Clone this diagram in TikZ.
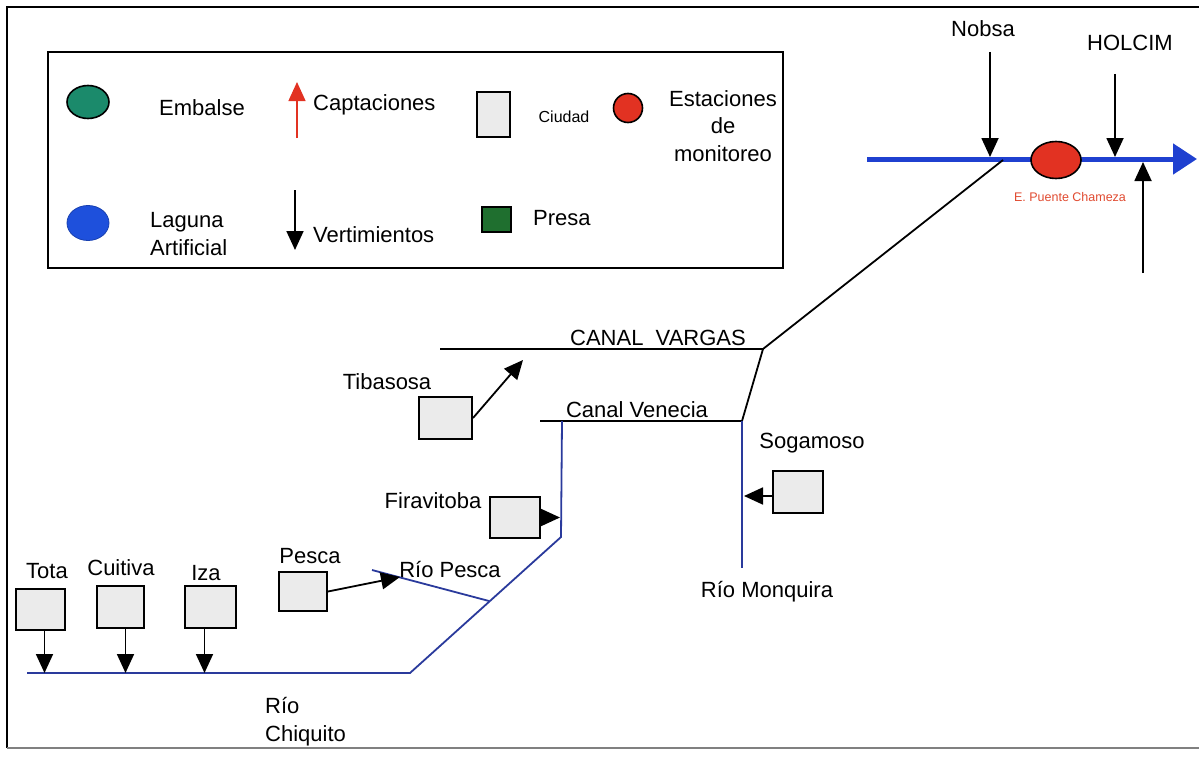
\documentclass[tikz,border=0pt]{standalone}
\usepackage{fontspec}
\setmainfont{Liberation Sans}
\usetikzlibrary{arrows.meta,shapes.geometric}
\definecolor{embalse}{HTML}{1B8A6B}
\definecolor{laguna}{HTML}{1E50DC}
\definecolor{estred}{HTML}{E23222}
\definecolor{presa}{HTML}{1F6F2F}
\definecolor{cityfill}{HTML}{EBEBEB}
\definecolor{riverblue}{HTML}{2A3A9C}
\definecolor{mainblue}{HTML}{1F40D0}
\definecolor{redtext}{HTML}{E04A30}
\begin{document}
\begin{tikzpicture}[x=1pt,y=-1pt,
  lbl/.style={font=\fontsize{22}{28}\selectfont, inner sep=0pt},
  city/.style={draw=black, line width=2pt, fill=cityfill, inner sep=0pt},
  vert/.style={-{Triangle[length=19pt,width=17pt]}, line width=1.8pt, black},
  capt/.style={-{Triangle[length=19pt,width=17pt]}, line width=1.4pt, estred},
  river/.style={draw=riverblue, line width=1.8pt},
  canal/.style={draw=black, line width=1.8pt},
  mainriver/.style={draw=mainblue, line width=5pt, -{Triangle[length=24pt,width=30pt]}}]
\useasboundingbox (0,0) rectangle (1199,760);
% frame
\draw[line width=2pt] (1199,7) -- (7,7) -- (7,748);
\draw[gray, line width=1.2pt] (7,748) -- (1199,748);
% legend
\draw[line width=2pt] (48,52) rectangle (783,268);
\node[ellipse, draw, line width=1.6pt, fill=embalse, minimum width=42pt, minimum height=33pt] (embsym) at (88,102) {};
\node[lbl] (emb) at (202,108) {Embalse};
\coordinate (capS) at (297,138);
\coordinate (capE) at (297,82);
\draw[capt] (capS) -- (capE);
\node[lbl, anchor=west] (capt) at (313,105) {Captaciones};
\node[ellipse, draw=laguna!80!black, line width=0.8pt, fill=laguna, minimum width=42pt, minimum height=35pt] (lagsym) at (88,223) {};
\node[lbl, anchor=west, align=left] (lag) at (150,234) {Laguna\\Artificial};
\coordinate (verS) at (295,190);
\coordinate (verE) at (295,250);
\draw[vert] (verS) -- (verE);
\node[lbl, anchor=west] (vert) at (313,235) {Vertimientos};
\node[city, minimum width=33pt, minimum height=45pt] (citysym) at (493.5,114.5) {};
\node[lbl, font=\fontsize{16}{18}\selectfont] (ciudad) at (564,117) {Ciudad};
\node[circle, draw, line width=1.6pt, fill=estred, minimum size=29pt, inner sep=0pt] (estsym) at (628,108) {};
\node[lbl, align=center, font=\fontsize{22}{27.5}\selectfont] (est) at (723,126) {Estaciones\\de\\monitoreo};
\node[draw, line width=1.5pt, fill=presa, minimum width=29pt, minimum height=25pt, inner sep=0pt] (presasym) at (496.5,219.5) {};
\node[lbl, anchor=west] (presa) at (533,218) {Presa};
% main river (top right)
\coordinate (mainS) at (867,159);
\coordinate (mainE) at (1197,159);
\draw[mainriver] (mainS) -- (mainE);
\node[ellipse, draw, line width=1.6pt, fill=estred, minimum width=50pt, minimum height=37pt, inner sep=0pt] (chameza) at (1056,160) {};
\node[inner sep=0pt, text=redtext, font=\fontsize{12.5}{14}\selectfont] (chamezalbl) at (1070,197) {E. Puente Chameza};
\node[lbl] (nobsa) at (983,29) {Nobsa};
\coordinate (nobsaS) at (990,52);
\coordinate (nobsaE) at (990,157);
\draw[vert] (nobsaS) -- (nobsaE);
\node[lbl] (holcim) at (1130,43) {HOLCIM};
\coordinate (holS) at (1115,74);
\coordinate (holE) at (1115,157);
\draw[vert] (holS) -- (holE);
\coordinate (upS) at (1143,273);
\coordinate (upE) at (1143,162);
\draw[vert] (upS) -- (upE);
% canals
\coordinate (vL) at (440,349);
\coordinate (jV) at (763,349);
\coordinate (jN) at (1003,160);
\coordinate (jC) at (742,421);
\coordinate (cL) at (540,421);
\draw[canal] (vL) -- (jV) -- (jN);
\draw[canal] (jV) -- (jC) -- (cL);
\node[lbl] (vargas) at (658,338) {CANAL\ \ VARGAS};
\node[lbl] (venecia) at (637,410) {Canal Venecia};
% blue rivers
\coordinate (chT) at (562,421);
\coordinate (chB) at (561,537);
\coordinate (chD) at (410,673);
\coordinate (chL) at (27,673);
\draw[river] (chT) -- (chB) -- (chD) -- (chL);
\coordinate (monB) at (742,568);
\draw[river] (jC) -- (monB);
\coordinate (peL) at (372,570);
\coordinate (peJ) at (489,601);
\draw[river] (peL) -- (peJ);
\node[lbl] (riopesca) at (450,570) {Río Pesca};
\node[lbl] (monq) at (767,592) {Río Monquira};
\node[lbl, anchor=west, align=left] (chiq) at (265,722) {Río\\Chiquito};
% cities
\node[city, minimum width=53pt, minimum height=42pt] (tib) at (445.5,418) {};
\node[lbl] (tiblbl) at (387,382) {Tibasosa};
\coordinate (tibE) at (523,360);
\draw[vert] (tib.east) -- (tibE);
\node[city, minimum width=50pt, minimum height=41pt] (fir) at (515,517.5) {};
\node[lbl] (firlbl) at (433,501) {Firavitoba};
\coordinate (firE) at (560,517.5);
\draw[vert] (fir.east) -- (firE);
\node[city, minimum width=50pt, minimum height=42pt] (sog) at (798,492) {};
\node[lbl] (soglbl) at (812,443) {Sogamoso};
\coordinate (sogE) at (744,496);
\draw[vert] ([yshift=-4pt]sog.west) -- (sogE);
\node[city, minimum width=48pt, minimum height=39pt] (pes) at (303,591.5) {};
\node[lbl] (peslbl) at (310,556) {Pesca};
\coordinate (pesE) at (400,577);
\draw[vert] (pes.east) -- (pesE);
\node[city, minimum width=49pt, minimum height=41pt] (tota) at (40.5,609.5) {};
\node[lbl] (totalbl) at (47,571) {Tota};
\draw[vert] ([xshift=4pt]tota.south) -- ([xshift=4pt]tota.south |- chL);
\node[city, minimum width=47pt, minimum height=42pt] (cui) at (120.5,607) {};
\node[lbl] (cuilbl) at (121,568) {Cuitiva};
\draw[vert] ([xshift=5pt]cui.south) -- ([xshift=5pt]cui.south |- chL);
\node[city, minimum width=51pt, minimum height=42pt] (iza) at (210.5,607) {};
\node[lbl] (izalbl) at (206,573) {Iza};
\draw[vert] ([xshift=-6pt]iza.south) -- ([xshift=-6pt]iza.south |- chL);
\end{tikzpicture}
\end{document}
